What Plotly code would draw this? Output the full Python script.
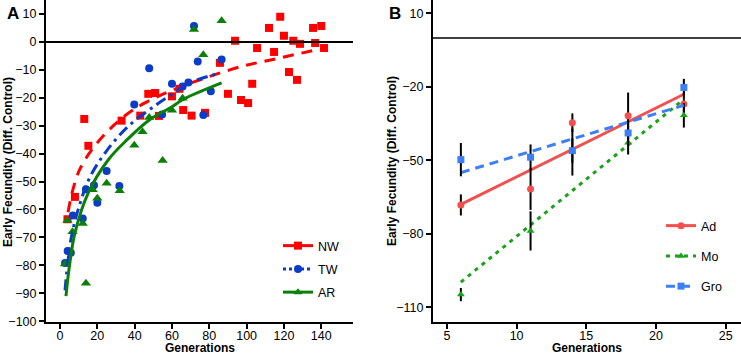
import plotly.graph_objects as go

# ---------------- Panel A data ----------------
nw_gen = [4, 8, 13, 15.2, 33, 43, 47.3, 51, 53, 60, 64, 66, 70.5, 77.7, 85.7, 90, 93.8, 97,
          100.8, 103, 105.6, 112, 114.7, 118, 120, 122.7, 125, 127, 128.6, 135.6, 136.7, 140, 141.5]
nw_val = [-63.5, -55.5, -27.6, -37.2, -28.2, -26.4, -18.6, -18.3, -26.5, -19.5, -16.8, -24.4, -26.4,
          -25.4, -7.5, -18.6, 0.4, -20.8, -21.9, -15, -2.2, 5, -3.6, 9, 2.2, -10.8, 0.4, -13.6, -0.7,
          5, -0.4, 5.7, -2.2]

tw_gen = [2.7, 4.1, 5.8, 6.9, 12.2, 13.9, 18.2, 20, 25, 31.8, 39.8, 47.8, 54.7, 60, 65.7, 68.8,
          71.8, 73.8, 76.8, 80.8, 86.6]
tw_val = [-79.2, -74.9, -75.5, -62.2, -63.2, -52.8, -51.3, -57.6, -46.2, -51.6, -22.4, -9.4, -26,
          -15, -16, -14.5, 5.7, -7, -26.2, -17.7, -6.3]

ar_gen = [2.7, 4, 6.7, 12.2, 13.9, 17.5, 20, 25, 32, 39.8, 44.2, 47.8, 55, 60, 65.7, 71.8, 76.8, 86.6]
ar_val = [-79.5, -64, -68, -65, -86.4, -52.9, -56, -50.6, -53.3, -37, -32.2, -27.1, -42.5, -24.5,
          -20.2, 4.4, -4.6, 7.6]

# fitted curves
nw_fit_gen = [4.3, 10.7, 25.7, 44.5, 91, 116, 140]
nw_fit_val = [-61, -45.5, -31.9, -22.2, -10, -6, -2.5]
tw_fit_gen = [2.7, 3.6, 5.9, 9.8, 16, 25, 36.6, 51, 61.6, 68.8, 84]
tw_fit_val = [-89, -82.5, -70.6, -59.9, -48.5, -39, -30.2, -22.8, -18, -14.8, -11.5]
ar_fit_gen = [3.2, 5, 8, 15.2, 25.9, 35.7, 48.2, 59.8, 65.7, 86.6]
ar_fit_val = [-91, -80.5, -68.5, -54, -42.2, -35.2, -27.8, -23.3, -20.7, -14.7]

a_xticks = [0, 20, 40, 60, 80, 100, 120, 140]
a_yticks = [10, 0, -10, -20, -30, -40, -50, -60, -70, -80, -90, -100]

# ---------------- Panel B data ----------------
b_gen = [6, 11, 14, 18, 22]
ad_val = [-68.2, -61.7, -34.6, -31.8, -27]
ad_err = [4.3, 8.5, 3.8, 9.5, 5]
mo_val = [-104.8, -78.8, -46.6, -42.8, -31.6]
mo_err = [2.7, 8, 9.6, 4.8, 5]
gro_val = [-49.7, -48.7, -46, -38.8, -20.2]
gro_err = [6.8, 5.2, 5, 5, 3.5]

ad_fit = ([6, 22], [-68, -23])
mo_fit = ([6, 22], [-99.7, -25])
gro_fit = ([6, 22], [-55, -27.5])

b_xticks = [5, 10, 15, 20, 25]
b_yticks = [10, -20, -50, -80, -110]

Y_TITLE = "Early Fecundity (Diff. Control)"
X_TITLE = "Generations"

FONT = "Liberation Sans, Arial, sans-serif"
RED_A, BLUE_A, GREEN_A = "#FF0000", "#0A3CC8", "#0A800A"
RED_B, GREEN_B, BLUE_B = "#F24F4F", "#18A318", "#3D7FF5"
W, H = 741, 354

fig = go.Figure()

# Panel A scatter points
for g, v, c, sym, sz in [(nw_gen, nw_val, RED_A, "square", 8),
                         (tw_gen, tw_val, BLUE_A, "circle", 8),
                         (ar_gen, ar_val, GREEN_A, "triangle-up", 9)]:
    fig.add_trace(go.Scatter(x=g, y=v, mode="markers", xaxis="x", yaxis="y",
                             marker=dict(symbol=sym, size=sz, color=c), showlegend=False))
# Panel A fits
for g, v, c, dash in [(nw_fit_gen, nw_fit_val, RED_A, "11px,8px"),
                      (tw_fit_gen, tw_fit_val, BLUE_A, "11px,5px,3px,5px"),
                      (ar_fit_gen, ar_fit_val, GREEN_A, "solid")]:
    fig.add_trace(go.Scatter(x=g, y=v, mode="lines", xaxis="x", yaxis="y",
                             line=dict(color=c, width=3, dash=dash, shape="spline"),
                             showlegend=False))
# Panel A legend entries
for name, c, sym, dash in [("NW", RED_A, "square", "solid"), ("TW", BLUE_A, "circle", "dot"),
                           ("AR", GREEN_A, "triangle-up", "solid")]:
    fig.add_trace(go.Scatter(x=[None], y=[None], mode="lines+markers", name=name,
                             xaxis="x", yaxis="y", legend="legend", legendgroup=name,
                             marker=dict(symbol=sym, size=8, color=c),
                             line=dict(color=c, width=3, dash=dash)))

# Panel B
for name, val, err, c, sym, dash, fit in [("Ad", ad_val, ad_err, RED_B, "circle", "solid", ad_fit),
                                          ("Mo", mo_val, mo_err, GREEN_B, "triangle-up", "4px,5px", mo_fit),
                                          ("Gro", gro_val, gro_err, BLUE_B, "square", "9px,6px", gro_fit)]:
    fig.add_trace(go.Scatter(x=fit[0], y=fit[1], mode="lines", xaxis="x2", yaxis="y2",
                             line=dict(color=c, width=3, dash=dash), showlegend=False))
    fig.add_trace(go.Scatter(x=b_gen, y=val, mode="markers", xaxis="x2", yaxis="y2",
                             error_y=dict(type="data", array=err, color="black", thickness=2, width=0),
                             marker=dict(symbol=sym, size=7, color=c), showlegend=False))
for name, c, sym, dash in [("Ad", RED_B, "circle", "solid"), ("Mo", GREEN_B, "triangle-up", "4px,5px"),
                           ("Gro", BLUE_B, "square", "9px,6px")]:
    fig.add_trace(go.Scatter(x=[None], y=[None], mode="lines+markers", name=name,
                             xaxis="x2", yaxis="y2", legend="legend2", legendgroup=name + "b",
                             marker=dict(symbol=sym, size=7, color=c),
                             line=dict(color=c, width=3, dash=dash)))

axis_common = dict(showline=True, linecolor="black", linewidth=2, ticks="outside", ticklen=5,
                   tickwidth=1.5, tickcolor="black", showgrid=False, zeroline=False,
                   automargin=False,
                   tickfont=dict(family=FONT, size=12.5, color="black"))
title_font = dict(family=FONT, size=12, color="black", weight="bold")


def px_x(p):
    return p / W


def px_y(p):
    return 1 - p / H


def label(text, x, y, font, angle=0):
    return dict(text=text, x=px_x(x), y=px_y(y), xref="paper", yref="paper", textangle=angle,
                xanchor="center", yanchor="middle", showarrow=False, font=font)


fig.update_layout(
    width=W, height=H, margin=dict(l=0, r=0, t=0, b=0, autoexpand=False),
    paper_bgcolor="white", plot_bgcolor="white",
    font=dict(family=FONT, size=12, color="black"),
    xaxis=dict(domain=[px_x(46), px_x(353)], range=[-7.5, 157], tickvals=a_xticks,
               anchor="y", ticklabelstandoff=-4, **axis_common),
    yaxis=dict(domain=[px_y(322), 1], range=[-100.3, 15], tickvals=a_yticks,
               anchor="x", **axis_common),
    xaxis2=dict(domain=[px_x(433), 1], range=[4, 26.1], tickvals=b_xticks,
                anchor="y2", ticklabelstandoff=-4, **axis_common),
    yaxis2=dict(domain=[px_y(322), 1], range=[-116, 15.5], tickvals=b_yticks,
                anchor="x2", **axis_common),
    legend=dict(x=px_x(278), y=px_y(231), xanchor="left", yanchor="top", bgcolor="rgba(0,0,0,0)",
                itemwidth=30, tracegroupgap=4, font=dict(family=FONT, size=12.5)),
    legend2=dict(x=px_x(661), y=px_y(211), xanchor="left", yanchor="top", bgcolor="rgba(0,0,0,0)",
                 itemwidth=30, tracegroupgap=11, font=dict(family=FONT, size=12.5)),
    shapes=[
        dict(type="line", xref="x domain", yref="y", x0=0, x1=1, y0=0, y1=0,
             line=dict(color="black", width=2)),
        dict(type="line", xref="x2 domain", yref="y2", x0=0, x1=1, y0=0, y1=0,
             line=dict(color="black", width=1.5)),
    ],
    annotations=[
        label("<b>A</b>", 13, 13, dict(family=FONT, size=17, color="black")),
        label("<b>B</b>", 395, 13, dict(family=FONT, size=17, color="black")),
        label(Y_TITLE, 8, 162, title_font, -90),
        label(Y_TITLE, 392, 161, title_font, -90),
        label(X_TITLE, 200, 347.5, title_font),
        label(X_TITLE, 587, 347.5, title_font),
    ],
)

fig.write_html("out.html", config={"displayModeBar": False},
               post_script="document.body.style.margin='0px';")
